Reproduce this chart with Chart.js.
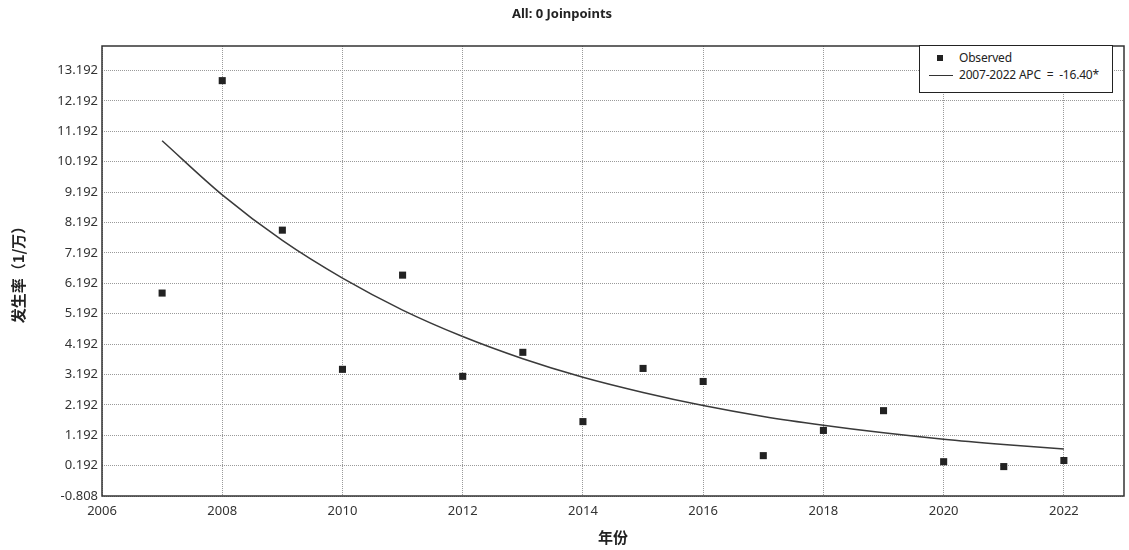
<!DOCTYPE html>
<html>
<head>
<meta charset="utf-8">
<script src="https://cdn.jsdelivr.net/npm/chart.js@4"></script>
<style>
  body { margin: 0; background: #fff; }
  #wrap { position: relative; width: 1129px; height: 550px; }
  #legendBox {
    position: absolute; left: 919px; top: 45px; width: 192px; height: 46px;
    border: 1px solid #222; background: #fff;
    font: 12px "Noto Sans", sans-serif; color: #222;
  }
  .row { position: absolute; left: 0; height: 14px; line-height: 14px; }
  .row span { position: absolute; left: 39px; white-space: nowrap; letter-spacing: -0.2px; }
  .sq { position: absolute; left: 17px; top: 4px; width: 6px; height: 6px; background: #222; }
  .ln { position: absolute; left: 9px; top: 7px; width: 24px; height: 0; border-top: 1.5px solid #333; }
</style>
</head>
<body>
<div id="wrap">
  <canvas id="chart" width="1129" height="550"></canvas>
  <div id="legendBox">
    <div class="row" style="top:5px"><div class="sq"></div><span>Observed</span></div>
    <div class="row" style="top:22px"><div class="ln"></div><span>2007-2022 APC&nbsp; =&nbsp; -16.40*</span></div>
  </div>
</div>
<script>
// === Data ===
const years = [2007, 2008, 2009, 2010, 2011, 2012, 2013, 2014, 2015, 2016, 2017, 2018, 2019, 2020, 2021, 2022];
const observed = [5.87, 12.86, 7.94, 3.36, 6.46, 3.13, 3.92, 1.64, 3.39, 2.96, 0.52, 1.35, 2.0, 0.32, 0.16, 0.36];
const apcLine = [10.88, 9.1, 7.6, 6.36, 5.31, 4.44, 3.71, 3.1, 2.6, 2.17, 1.81, 1.52, 1.27, 1.06, 0.89, 0.74];
const xTicks = [2006, 2008, 2010, 2012, 2014, 2016, 2018, 2020, 2022];
const yTicks = [-0.808, 0.192, 1.192, 2.192, 3.192, 4.192, 5.192, 6.192, 7.192, 8.192, 9.192, 10.192, 11.192, 12.192, 13.192];

// box around the plot area
const frame = {
  id: "frame",
  afterDraw(chart) {
    const { ctx, chartArea: a } = chart;
    ctx.save();
    ctx.strokeStyle = "#333";
    ctx.lineWidth = 1.5;
    ctx.strokeRect(a.left, a.top, a.right - a.left, a.bottom - a.top);
    ctx.restore();
  },
};

const tickFont = { family: "'Noto Sans', sans-serif", size: 13 };
const gridOpts = { color: "#9a9a9a", lineWidth: 1, drawTicks: false };

new Chart(document.getElementById("chart"), {
  type: "scatter",
  data: {
    datasets: [
      {
        label: "Observed",
        data: years.map((y, i) => ({ x: y, y: observed[i] })),
        pointStyle: "rect",
        pointRadius: 5,
        pointHoverRadius: 5,
        backgroundColor: "#222",
        borderColor: "#222",
        borderWidth: 0,
        order: 1,
      },
      {
        type: "line",
        label: "2007-2022 APC = -16.40*",
        data: years.map((y, i) => ({ x: y, y: apcLine[i] })),
        borderColor: "#3a3a3a",
        borderWidth: 1.5,
        pointRadius: 0,
        cubicInterpolationMode: "monotone",
        fill: false,
        order: 2,
      },
    ],
  },
  options: {
    responsive: false,
    animation: false,
    layout: { padding: { left: 0, right: 5, top: 0, bottom: 0 } },
    plugins: {
      legend: { display: false },
      tooltip: { enabled: false },
      title: {
        display: true,
        text: "All: 0 Joinpoints",
        color: "#222",
        font: { family: "'Noto Sans', sans-serif", size: 13, weight: "bold" },
        padding: { top: 6, bottom: 24.4 },
      },
    },
    scales: {
      x: {
        type: "linear",
        min: 2006,
        max: 2023,
        afterBuildTicks(scale) {
          scale.ticks = xTicks.map((v) => ({ value: v }));
        },
        afterFit(scale) {
          scale.height = 54;
        },
        ticks: { color: "#333", font: tickFont, padding: 7, maxRotation: 0, callback: (v) => String(v) },
        grid: { ...gridOpts },
        border: { display: false, dash: [1, 1] },
        title: {
          display: true,
          text: "年份",
          color: "#222",
          font: { family: "'Noto Sans CJK SC', sans-serif", size: 15, weight: "bold" },
          padding: { top: 0, bottom: 4 },
        },
      },
      y: {
        min: -0.808,
        max: 14.0,
        afterBuildTicks(scale) {
          scale.ticks = yTicks.map((v) => ({ value: v }));
        },
        afterFit(scale) {
          scale.width = 102;
        },
        ticks: { color: "#333", font: tickFont, padding: 4, callback: (v) => v.toFixed(3) },
        grid: { ...gridOpts },
        border: { display: false, dash: [1, 1] },
        title: {
          display: true,
          text: "发生率（1/万）",
          color: "#222",
          font: { family: "'Noto Sans CJK SC', sans-serif", size: 15, weight: "bold" },
          padding: { top: 9, bottom: 0 },
        },
      },
    },
  },
  plugins: [frame],
});
</script>
</body>
</html>
